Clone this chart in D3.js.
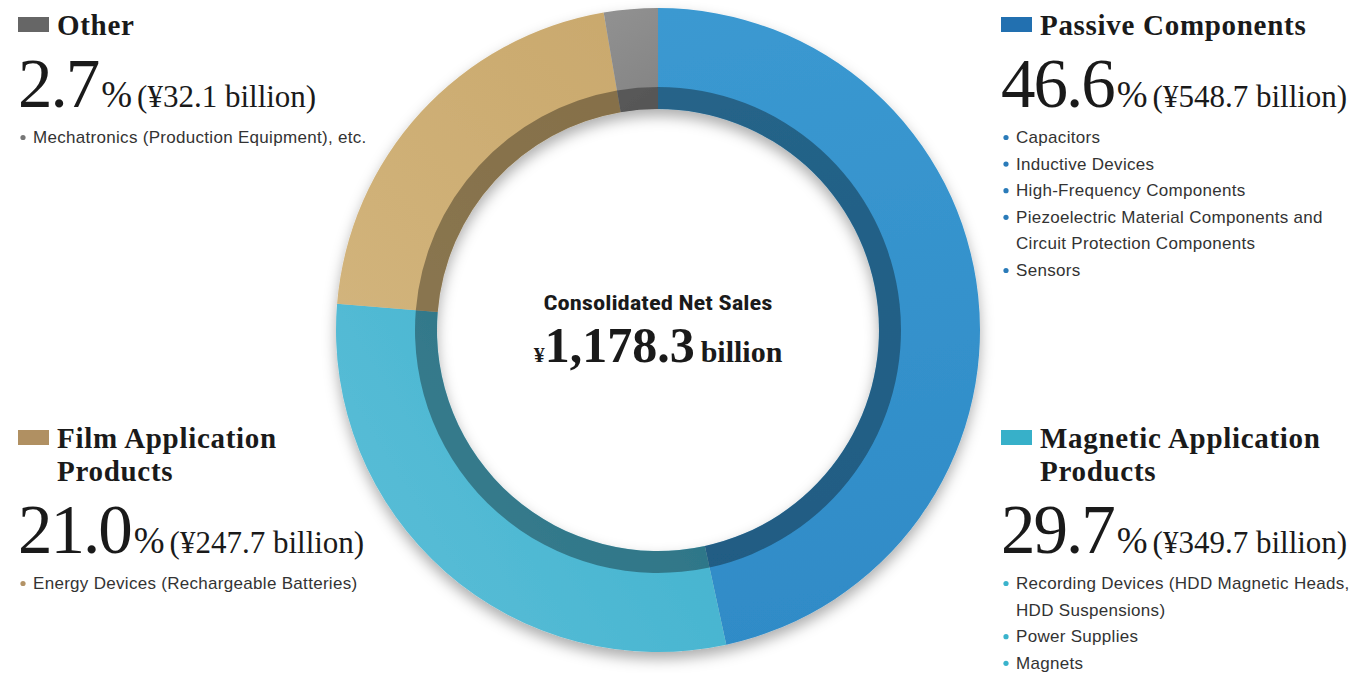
<!DOCTYPE html>
<html>
<head>
<meta charset="utf-8">
<script src="https://cdn.jsdelivr.net/npm/d3@7"></script>
<style>
  html, body { margin: 0; padding: 0; background: #ffffff; }
  svg { display: block; }
</style>
</head>
<body>
<svg id="chart" width="1364" height="673"></svg>
<script>
// Segment data (fiscal year consolidated net sales)
const segments = ["Passive Components", "Magnetic Application Products", "Film Application Products", "Other"];
const shares = [46.6, 29.7, 21.0, 2.7];           // % of net sales
const salesBillion = [548.7, 349.7, 247.7, 32.1]; // ¥ billion
const totalSales = 1178.3;                        // ¥ billion
const products = [
  ["Capacitors", "Inductive Devices", "High-Frequency Components",
   ["Piezoelectric Material Components and", "Circuit Protection Components"], "Sensors"],
  [["Recording Devices (HDD Magnetic Heads,", "HDD Suspensions)"], "Power Supplies", "Magnets"],
  ["Energy Devices (Rechargeable Batteries)"],
  ["Mechatronics (Production Equipment), etc."]
];

// Colours
const sliceLight = ["#3b99d1", "#5cbfd8", "#d2b47c", "#929292"];
const sliceDark  = ["#2f8bc7", "#3aaecb", "#c9a86c", "#858585"];
const keyColor   = ["#2270b0", "#37b0c9", "#b09062", "#666666"];
const dotColor   = ["#2a7bb9", "#3ab3cc", "#b39366", "#777777"];

// Label block origins per segment
const blocks = [
  {x: 1001, y: 17},
  {x: 1001, y: 430},
  {x: 18, y: 430},
  {x: 18, y: 17}
];

const svg = d3.select("#chart");
const cx = 658, cy = 330;
const rOuter = 322, rBand = 243, rInner = 221;

const defs = svg.append("defs");
const shadow = defs.append("filter").attr("id", "ringShadow")
  .attr("x", "-20%").attr("y", "-20%").attr("width", "140%").attr("height", "140%");
shadow.append("feDropShadow").attr("dx", 0).attr("dy", 7).attr("stdDeviation", 7)
  .attr("flood-color", "#000").attr("flood-opacity", 0.32);

// Gradient per slice (light to dark across the ring), in ring-local coordinates
const gradDir = [
  {x1: 0, y1: -rOuter, x2: 120, y2: rOuter},
  {x1: -rOuter, y1: rOuter, x2: 200, y2: 0},
  {x1: -rOuter, y1: 0, x2: 0, y2: -rOuter},
  {x1: -60, y1: -rOuter, x2: 0, y2: -rOuter + 80}
];
segments.forEach((s, i) => {
  const g = defs.append("linearGradient").attr("id", "grad" + i)
    .attr("gradientUnits", "userSpaceOnUse")
    .attr("x1", gradDir[i].x1).attr("y1", gradDir[i].y1)
    .attr("x2", gradDir[i].x2).attr("y2", gradDir[i].y2);
  g.append("stop").attr("offset", "0%").attr("stop-color", sliceLight[i]);
  g.append("stop").attr("offset", "100%").attr("stop-color", sliceDark[i]);
});

const pie = d3.pie().sort(null).value(d => d);
const arcs = pie(shares);
const arcOuter = d3.arc().innerRadius(rInner).outerRadius(rOuter);
const arcBand = d3.arc().innerRadius(rInner).outerRadius(rBand);

const ring = svg.append("g").attr("transform", `translate(${cx},${cy})`)
  .attr("filter", "url(#ringShadow)");
ring.selectAll("path.slice").data(arcs).join("path")
  .attr("class", "slice")
  .attr("d", arcOuter)
  .attr("fill", (d, i) => `url(#grad${i})`);

// darker inner band
ring.selectAll("path.band").data(arcs).join("path")
  .attr("class", "band")
  .attr("d", arcBand)
  .attr("fill", "#000")
  .attr("fill-opacity", 0.34);

// Centre label
const center = svg.append("g").attr("transform", `translate(${cx},${cy})`);
center.append("text")
  .attr("x", 0).attr("y", -20)
  .attr("text-anchor", "middle")
  .attr("font-family", "'Roboto Condensed', 'Liberation Sans Narrow', 'DejaVu Sans Condensed', 'Liberation Sans', sans-serif")
  .attr("font-stretch", "condensed")
  .attr("font-weight", 700)
  .attr("font-size", 21)
  .attr("textLength", 229)
  .attr("lengthAdjust", "spacingAndGlyphs")
  .attr("fill", "#1a1a1a")
  .text("Consolidated Net Sales");
const tot = center.append("text")
  .attr("x", 0).attr("y", 32)
  .attr("text-anchor", "middle")
  .attr("font-family", "'Liberation Serif', 'Times New Roman', serif")
  .attr("font-weight", 700)
  .attr("fill", "#1a1a1a");
tot.append("tspan").attr("font-size", 22).text("¥");
tot.append("tspan").attr("font-size", 50).text(d3.format(",.1f")(totalSales));
tot.append("tspan").attr("font-size", 30).attr("dx", 6).text("billion");

// Segment label blocks
const serif = "'Liberation Serif', 'Times New Roman', serif";
const sans = "'Liberation Sans', Arial, sans-serif";

segments.forEach((name, i) => {
  const b = blocks[i];
  const g = svg.append("g").attr("transform", `translate(${b.x},${b.y})`);
  g.append("rect").attr("x", 0).attr("y", 0).attr("width", 31).attr("height", 15)
    .attr("fill", keyColor[i]);

  // heading, split on two lines when long
  const words = name.split(" ");
  const lines = name.length > 20 ? [words.slice(0, 2).join(" "), words.slice(2).join(" ")] : [name];
  lines.forEach((ln, k) => {
    g.append("text").attr("x", 39).attr("y", 18 + k * 33)
      .attr("font-family", serif).attr("font-weight", 700)
      .attr("font-size", 29).attr("letter-spacing", 0.7).attr("fill", "#1a1a1a")
      .text(ln);
  });
  const y0 = 18 + (lines.length - 1) * 33;

  const big = g.append("text").attr("x", 0).attr("y", y0 + 72)
    .attr("font-family", serif).attr("fill", "#1a1a1a");
  big.append("tspan").attr("font-size", 69).attr("letter-spacing", -2).text(d3.format(".1f")(shares[i]));
  big.append("tspan").attr("font-size", 37).attr("dx", 3).text("%");
  big.append("tspan").attr("font-size", 31).attr("dx", 5)
    .text(`(¥${d3.format(".1f")(salesBillion[i])} billion)`);

  let yy = y0 + 108;
  products[i].forEach(p => {
    const ls = Array.isArray(p) ? p : [p];
    g.append("circle").attr("cx", 5).attr("cy", yy - 5.5).attr("r", 2.6).attr("fill", dotColor[i]);
    ls.forEach(t => {
      g.append("text").attr("x", 15).attr("y", yy)
        .attr("font-family", sans).attr("font-size", 17).attr("letter-spacing", 0.3)
        .attr("fill", "#333")
        .text(t);
      yy += 26.6;
    });
  });
});
</script>
</body>
</html>
